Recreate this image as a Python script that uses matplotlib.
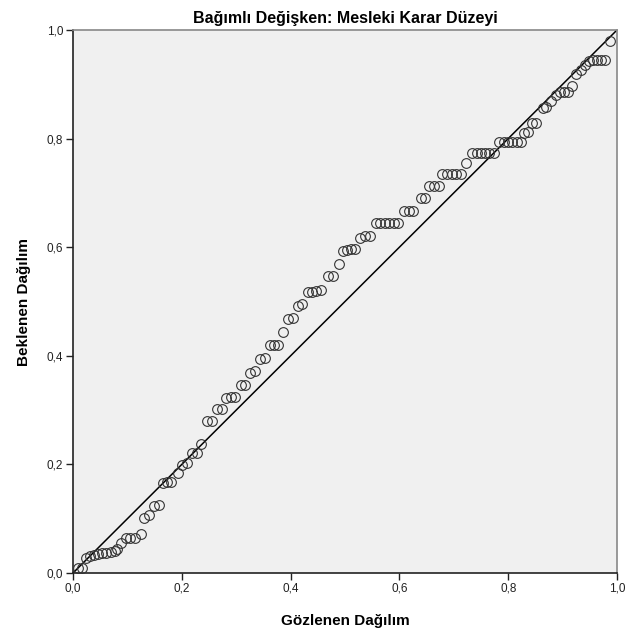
import numpy as np
import matplotlib
matplotlib.use("Agg")
import matplotlib.pyplot as plt
from matplotlib.ticker import FuncFormatter

gozlenen = [0.0097, 0.017, 0.0232, 0.031, 0.0383, 0.0462, 0.0535, 0.0615, 0.0693, 0.0766,
            0.0815, 0.0889, 0.098, 0.1053, 0.1131, 0.1241, 0.1314, 0.1405, 0.1496, 0.1588,
            0.1648, 0.1728, 0.1801, 0.1922, 0.1995, 0.2093, 0.2195, 0.2286, 0.236, 0.2469,
            0.2549, 0.2652, 0.2732, 0.2816, 0.2896, 0.2974, 0.3097, 0.317, 0.3261, 0.3339,
            0.3443, 0.3522, 0.3626, 0.3704, 0.3777, 0.3869, 0.396, 0.4051, 0.4142, 0.4215,
            0.4312, 0.4385, 0.4476, 0.4568, 0.469, 0.4781, 0.4891, 0.4964, 0.5042, 0.5115,
            0.5188, 0.5268, 0.5359, 0.5451, 0.5566, 0.5648, 0.573, 0.5812, 0.5894, 0.5976,
            0.609, 0.6168, 0.6259, 0.6392, 0.6465, 0.6546, 0.6637, 0.6728, 0.6788, 0.6871,
            0.6962, 0.7044, 0.7135, 0.7232, 0.7336, 0.7418, 0.75, 0.7582, 0.7655, 0.7737,
            0.7828, 0.7914, 0.7993, 0.8075, 0.8157, 0.8236, 0.8297, 0.8358, 0.8436, 0.8509,
            0.8631, 0.8704, 0.8783, 0.8874, 0.8947, 0.9027, 0.9106, 0.9179, 0.9252, 0.933,
            0.9411, 0.9484, 0.9557, 0.9635, 0.9714, 0.9787, 0.9878]
beklenen = [0.0087, 0.0098, 0.0282, 0.0313, 0.0331, 0.035, 0.0363, 0.0374, 0.0392, 0.0411,
            0.0436, 0.0547, 0.0639, 0.0639, 0.0639, 0.0718, 0.1007, 0.1068, 0.1234, 0.1252,
            0.1663, 0.1681, 0.1681, 0.1836, 0.1989, 0.202, 0.2204, 0.2204, 0.237, 0.2799,
            0.2799, 0.302, 0.302, 0.3217, 0.3236, 0.3247, 0.3462, 0.3462, 0.3678, 0.372,
            0.3941, 0.3954, 0.4199, 0.4199, 0.4199, 0.4444, 0.4672, 0.4702, 0.4923, 0.4954,
            0.518, 0.518, 0.5193, 0.5212, 0.547, 0.547, 0.5685, 0.593, 0.5948, 0.5961,
            0.5972, 0.6175, 0.6206, 0.6206, 0.644, 0.644, 0.644, 0.644, 0.644, 0.644,
            0.6672, 0.6672, 0.6672, 0.69, 0.69, 0.7127, 0.7127, 0.7127, 0.7343, 0.7343,
            0.7343, 0.7343, 0.7343, 0.7556, 0.7744, 0.7744, 0.7744, 0.7744, 0.7744, 0.7744,
            0.7932, 0.7932, 0.7932, 0.7932, 0.7932, 0.7932, 0.8098, 0.8116, 0.8282, 0.8293,
            0.8558, 0.8587, 0.8692, 0.8803, 0.8853, 0.8853, 0.8853, 0.8974, 0.9184, 0.9263,
            0.9355, 0.9429, 0.9448, 0.9448, 0.9448, 0.9448, 0.9797]

baslik = u'Bağımlı Değişken: Mesleki Karar Düzeyi'
x_etiket = u'Gözlenen Dağılım'
y_etiket = u'Beklenen Dağılım'
tikler = [0.0, 0.2, 0.4, 0.6, 0.8, 1.0]

plt.rcParams['font.family'] = ['Liberation Sans', 'DejaVu Sans']

fig = plt.figure(figsize=(6.26, 6.37), dpi=100)
ax = fig.add_axes([73/626., 1-573/637., 544/626., 543/637.])
ax.set_facecolor('#f0f0f0')

# referans cizgisi
ax.plot([0, 1], [0, 1], color='black', lw=1.1, zorder=2)
ax.plot(gozlenen, beklenen, 'o', mfc='none', mec='#333333', ms=7, mew=0.8, zorder=3,
        clip_on=False)

ax.set_xlim(0, 1)
ax.set_ylim(0, 1)
ax.set_xticks(tikler)
ax.set_yticks(tikler)
fmt = FuncFormatter(lambda v, p: ('%.1f' % v).replace('.', ','))
ax.xaxis.set_major_formatter(fmt)
ax.yaxis.set_major_formatter(fmt)
ax.tick_params(direction='out', length=5, width=1, labelsize=8.5, colors='#222222', pad=2)

for s in ['left', 'bottom']:
    ax.spines[s].set_color('#222222')
    ax.spines[s].set_linewidth(1.2)
for s in ['top', 'right']:
    ax.spines[s].set_color('#888888')
    ax.spines[s].set_linewidth(1.2)

ax.set_title(baslik, fontsize=11.5, fontweight='bold', pad=5)
ax.set_xlabel(x_etiket, fontsize=11, fontweight='bold', labelpad=14)
ax.set_ylabel(y_etiket, fontsize=11, fontweight='bold', labelpad=11)

fig.savefig('out.png', dpi=100)
